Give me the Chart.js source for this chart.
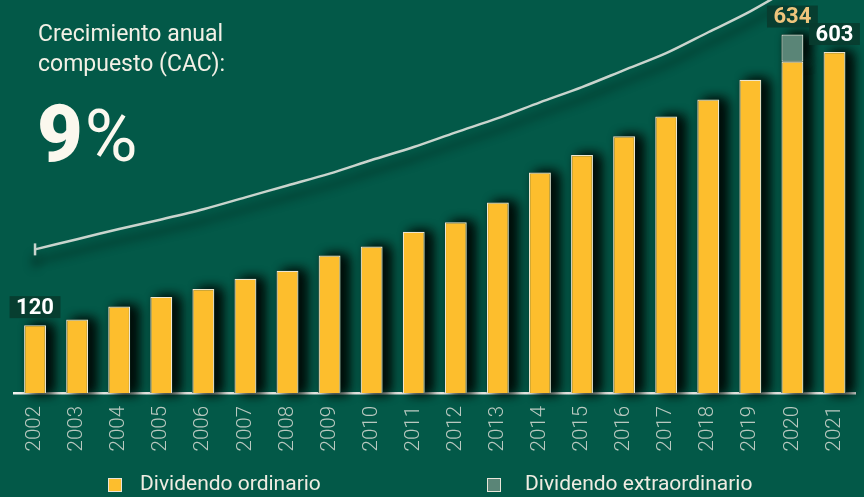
<!DOCTYPE html>
<html lang="es">
<head>
<meta charset="utf-8">
<title>Dividendo por acción</title>
<script src="https://cdn.jsdelivr.net/npm/chart.js@4.4.1/dist/chart.umd.min.js"></script>
<style>
    html, body { margin: 0; padding: 0; background: #035948; }
    #wrap { position: relative; width: 864px; height: 497px; overflow: hidden; font-family: Roboto, sans-serif; }
    #chart { position: absolute; left: 0; top: 0; }
    .titulo { position: absolute; left: 38px; top: 19px; color: #f3f0e6; font-size: 23px; line-height: 30px; }
    .cac { position: absolute; left: 37px; top: 95px; color: #fbf8ee; font-size: 79px; line-height: 79px; white-space: nowrap; }
    .cac b { font-weight: 900; }
    .cac span { font-size: 72px; font-weight: 400; margin-left: 2px; }
    .ley-caja { position: absolute; top: 478px; width: 12px; height: 12px; border: 1.5px solid #e9e6da; }
    .ley-texto { position: absolute; top: 473px; color: #efece2; font-size: 21px; line-height: 21px; white-space: nowrap; }
</style>
</head>
<body>
<div id="wrap">
    <canvas id="chart" width="864" height="497"></canvas>
    <div class="titulo">Crecimiento anual<br>compuesto (CAC):</div>
    <div class="cac"><b>9</b><span>%</span></div>
    <div id="leyenda"></div>
</div>
<script>
const years = ['2002', '2003', '2004', '2005', '2006', '2007', '2008', '2009', '2010', '2011',
               '2012', '2013', '2014', '2015', '2016', '2017', '2018', '2019', '2020', '2021'];
const ordinario = [120, 130, 153, 170, 184, 202, 216, 243, 259, 285,
                   302, 337, 390, 421, 454, 489, 519, 554, 586, 603];
const extraordinario = [null, null, null, null, null, null, null, null, null, null,
                        null, null, null, null, null, null, null, null, 48, null];
// curva de crecimiento (en las mismas unidades que las barras)
const curvaCAC = [254, 272, 290, 307, 325, 346, 367, 388, 412, 435,
                  461, 486, 514, 541, 571, 601, 638, 675, 718, 762];
const etiquetas = [0, 18, 19];
const yMax = 680;

const colorOrdinario = '#fdbe2d';
const colorExtra = '#5a8577';
const colorEtiquetas = ['#ffffff', '#eec57c', '#ffffff'];

// sombra bajo las barras
const sombraBarras = {
    id: 'sombraBarras',
    beforeDatasetsDraw(chart) {
        const ctx = chart.ctx;
        ctx.save();
        ctx.shadowColor = 'rgba(0, 14, 10, 0.95)';
        ctx.shadowBlur = 12;
        ctx.shadowOffsetX = 7;
        ctx.shadowOffsetY = 0;
        ctx.fillStyle = '#06382c';
        chart.data.datasets.forEach((ds, i) => {
            if (ds.type === 'line') return;
            chart.getDatasetMeta(i).data.forEach(bar => {
                const p = bar.getProps(['x', 'y', 'base', 'width'], true);
                if (!isFinite(p.y) || p.base - p.y < 1) return;
                ctx.fillRect(p.x - p.width / 2, p.y, p.width, p.base - p.y);
                ctx.fillRect(p.x - p.width / 2, p.y, p.width, p.base - p.y);
            });
        });
        ctx.restore();
    }
};

// sombra de la curva
const sombraCurva = {
    id: 'sombraCurva',
    beforeDatasetDraw(chart, args) {
        if (args.meta.type !== 'line') return;
        const ctx = chart.ctx;
        ctx.save();
        ctx.shadowColor = 'rgba(0, 22, 16, 0.8)';
        ctx.shadowBlur = 10;
        ctx.shadowOffsetY = 12;
    },
    afterDatasetDraw(chart, args) {
        if (args.meta.type !== 'line') return;
        chart.ctx.restore();
    }
};

// cajas con el valor encima de algunas barras
const etiquetasValor = {
    id: 'etiquetasValor',
    afterDatasetsDraw(chart) {
        const ctx = chart.ctx;
        ctx.save();
        ctx.font = '700 22px Roboto';
        ctx.textAlign = 'center';
        ctx.textBaseline = 'middle';
        etiquetas.forEach((idx, k) => {
            const extra = extraordinario[idx] || 0;
            const total = ordinario[idx] + extra;
            const bar = chart.getDatasetMeta(extra ? 1 : 0).data[idx];
            const texto = String(total);
            const w = ctx.measureText(texto).width + 13;
            const h = 22;
            const cx = Math.min(bar.x, chart.width - w / 2);
            const bottom = bar.y - 7;
            ctx.fillStyle = 'rgba(8, 60, 47, 0.92)';
            ctx.fillRect(cx - w / 2, bottom - h, w, h);
            ctx.fillStyle = colorEtiquetas[k];
            ctx.fillText(texto, cx, bottom - h / 2 + 1);
        });
        ctx.restore();
    }
};

const ctx = document.getElementById('chart').getContext('2d');
const chart = new Chart(ctx, {
    type: 'bar',
    data: {
        labels: years,
        datasets: [
            {
                label: 'Dividendo ordinario',
                data: ordinario,
                backgroundColor: colorOrdinario,
                borderColor: '#eee6cf',
                borderWidth: { top: 1.2, left: 1.2, right: 1.2, bottom: 0 },
                borderSkipped: false,
                barPercentage: 0.52,
                categoryPercentage: 1.0,
                order: 1
            },
            {
                label: 'Dividendo extraordinario',
                data: extraordinario,
                backgroundColor: colorExtra,
                borderColor: '#d9ddd2',
                borderWidth: { top: 1.2, left: 1.2, right: 1.2, bottom: 1.2 },
                borderSkipped: false,
                barPercentage: 0.52,
                categoryPercentage: 1.0,
                order: 1
            },
            {
                type: 'line',
                label: 'CAC',
                data: curvaCAC,
                stack: 'curva',
                borderColor: '#c9d4cd',
                borderWidth: 2.5,
                tension: 0.3,
                fill: false,
                clip: false,
                pointStyle: 'line',
                rotation: 90,
                pointRadius: (c) => c.dataIndex === 0 ? 6 : 0,
                pointBorderColor: '#c9d4cd',
                pointBorderWidth: 2.5,
                order: 0
            }
        ]
    },
    options: {
        responsive: false,
        animation: false,
        layout: { padding: { top: 2, left: 14, right: 7, bottom: 44 } },
        plugins: {
            legend: { display: false },
            tooltip: { enabled: false }
        },
        scales: {
            x: {
                stacked: true,
                grid: { display: false, drawTicks: false },
                border: { color: '#f2f2ee', width: 2.5 },
                ticks: {
                    color: '#b8c8bf',
                    font: { family: 'Roboto', size: 20.5, weight: '300' },
                    minRotation: 90,
                    maxRotation: 90,
                    padding: 13
                },
                afterFit(scale) {
                    scale.height = 60;
                    scale.paddingLeft = 0;
                    scale.paddingRight = 0;
                }
            },
            y: {
                stacked: true,
                display: false,
                min: 0,
                max: yMax
            }
        }
    },
    plugins: [sombraBarras, sombraCurva, etiquetasValor]
});

// leyenda en HTML
const leyenda = document.getElementById('leyenda');
const posLeyenda = [[108, 140], [487, 525]];
chart.data.datasets.slice(0, 2).forEach((ds, i) => {
    const caja = document.createElement('div');
    caja.className = 'ley-caja';
    caja.style.left = posLeyenda[i][0] + 'px';
    caja.style.background = ds.backgroundColor;
    const texto = document.createElement('div');
    texto.className = 'ley-texto';
    texto.style.left = posLeyenda[i][1] + 'px';
    texto.innerText = ds.label;
    leyenda.appendChild(caja);
    leyenda.appendChild(texto);
});
</script>
</body>
</html>
